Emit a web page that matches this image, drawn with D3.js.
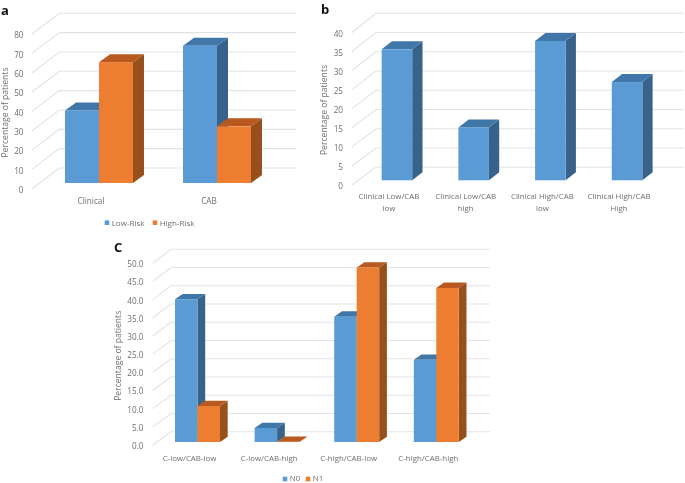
<!DOCTYPE html>
<html><head><meta charset="utf-8">
<script src="https://cdnjs.cloudflare.com/ajax/libs/d3/7.8.5/d3.min.js"></script>
<style>
html,body{margin:0;padding:0;background:#fff}
svg{display:block;filter:blur(0.35px)}
text{font-family:"Open Sans",sans-serif}
</style></head><body>
<svg id="c" width="685" height="483"></svg>
<script>
// ---- data ----
const catsA = ["Clinical", "CAB"];
const lowRisk = [37.5, 71];
const highRisk = [62.5, 29.3];
const catsB = ["Clinical Low/CAB low", "Clinical Low/CAB high", "Clinical High/CAB low", "Clinical High/CAB High"];
const patients = [34.4, 13.9, 36.6, 25.8];
const catsC = ["C-low/CAB-low", "C-low/CAB-high", "C-high/CAB-low", "C-high/CAB-high"];
const n0 = [39.3, 3.85, 34.5, 22.6];
const n1 = [9.9, 0.05, 48, 42.4];
const ticksA = [0, 10, 20, 30, 40, 50, 60, 70, 80];
const ticksB = [0, 5, 10, 15, 20, 25, 30, 35, 40];
const ticksC = [0, 5, 10, 15, 20, 25, 30, 35, 40, 45, 50];
const yTitle = "Percentage of patients";

const palette = {
  blue: {front: "#5B9BD5", top: "#4076A8", side: "#376289"},
  orange: {front: "#ED7D31", top: "#B85A20", side: "#974F1C"}
};
const svg = d3.select("#c");

function panel(o) {
  const g = svg.append("g");
  const yFront = d3.scaleLinear().domain([0, o.max]).range([o.front0, o.frontMax]);
  const yWall = d3.scaleLinear().domain([0, o.max]).range([o.wall0, o.wallMax]);
  const yBar = d3.scaleLinear().domain([0, o.max]).range([o.base, o.base - (o.front0 - o.frontMax)]);
  const x = d3.scaleBand().domain(o.cats).range(o.xr).paddingInner(o.pad).paddingOuter(o.pad / 2);
  const xs = d3.scaleBand().domain(o.series.map(s => s.name)).range([0, x.bandwidth()]);

  // back wall and side grid
  o.ticks.forEach(t => {
    g.append("path")
      .attr("d", `M${o.corner},${yFront(t)}L${o.wallL},${yWall(t)}H${o.wallR}`)
      .attr("fill", "none").attr("stroke", "#E3E3E3").attr("stroke-width", 1.1);
  });

  // y axis
  const ax = g.append("g").attr("transform", `translate(${o.tickX},0.8)`)
    .call(d3.axisLeft(yFront).tickValues(o.ticks).tickSize(0).tickPadding(0).tickFormat(o.fmt));
  ax.select(".domain").remove();
  ax.selectAll("text").attr("fill", "#6f6f6f").style("font-size", "8.2px");

  // x axis
  const bx = g.append("g").attr("transform", `translate(${o.labelDx},${o.labelY})`)
    .call(d3.axisBottom(x).tickSize(0).tickPadding(0));
  bx.select(".domain").remove();
  bx.selectAll("text").attr("fill", "#6f6f6f").style("font-size", o.labelSize + "px");
  if (o.wrap) {
    bx.selectAll("text").each(function (d) {
      const w = d.split(" "), last = w.pop(), t = d3.select(this).text(null).attr("dy", null);
      t.append("tspan").attr("x", 0).attr("dy", "0.71em").text(w.join(" "));
      t.append("tspan").attr("x", 0).attr("dy", 11.6).text(last);
    });
  }

  // bars: drawn left to right so later series overlap earlier ones
  o.cats.forEach((c, i) => {
    o.series.forEach(s => {
      const col = palette[s.color];
      const l = x(c) + xs(s.name), r = l + xs.bandwidth();
      const t = yBar(s.values[i]), b = yBar(0), dx = o.dx, dy = o.dy;
      g.append("path").attr("d", `M${r},${t}L${r + dx},${t - dy}V${b - dy}L${r},${b}Z`).attr("fill", col.side);
      g.append("path").attr("d", `M${l},${t}L${l + dx},${t - dy}H${r + dx}L${r},${t}Z`).attr("fill", col.top);
      g.append("rect").attr("x", l).attr("y", t).attr("width", r - l).attr("height", b - t)
        .attr("fill", col.front);
    });
  });

  // y title
  g.append("text").attr("transform", `translate(${o.titleX},${o.titleY}) rotate(-90)`)
    .attr("text-anchor", "middle").attr("dominant-baseline", "central")
    .attr("fill", "#6f6f6f").style("font-size", "8.6px").text(yTitle);

  // legend
  (o.legend || []).forEach((p, i) => {
    const s = o.series[i];
    g.append("rect").attr("x", p).attr("y", o.legendMark - 2.3).attr("width", 4.6).attr("height", 4.6)
      .attr("fill", palette[s.color].front);
    g.append("text").attr("x", p + 7).attr("y", o.legendY).attr("dominant-baseline", "central")
      .attr("fill", "#6f6f6f").style("font-size", "8px").text(s.name);
  });

  // panel letter
  g.append("text").attr("x", o.letter[0]).attr("y", o.letter[1])
    .attr("fill", "#111").style("font-size", "13px").style("font-weight", 700).text(o.tag);
}

panel({
  tag: "a", letter: [1, 14.5], cats: catsA, ticks: ticksA, max: 80, fmt: d3.format("d"),
  series: [{name: "Low-Risk", color: "blue", values: lowRisk}, {name: "High-Risk", color: "orange", values: highRisk}],
  front0: 189, frontMax: 34.3, wall0: 168, wallMax: 13.3, base: 183,
  corner: 31.7, wallL: 59.3, wallR: 296, tickX: 23.5,
  xr: [40, 276], pad: 0.424, dx: 11, dy: 8,
  labelDx: -8, labelY: 198, labelSize: 8.2, titleX: 5, titleY: 112.5,
  legend: [104.7, 152.7], legendY: 222.7, legendMark: 222.7
});
panel({
  tag: "b", letter: [321, 14], cats: catsB, ticks: ticksB, max: 40, fmt: d3.format("d"),
  series: [{name: "Patients", color: "blue", values: patients}],
  front0: 185, frontMax: 32.7, wall0: 167.3, wallMax: 13.3, base: 180.3,
  corner: 351.7, wallL: 376, wallR: 684, tickX: 343,
  xr: [358.6, 665.4], pad: 0.602, dx: 10.3, dy: 8,
  labelDx: -8, labelY: 193.5, labelSize: 7.9, wrap: true, titleX: 324.3, titleY: 110
});
panel({
  tag: "C", letter: [114, 252], cats: catsC, ticks: ticksC, max: 50, fmt: d3.format(".1f"),
  series: [{name: "N0", color: "blue", values: n0}, {name: "N1", color: "orange", values: n1}],
  front0: 445, frontMax: 263.3, wall0: 431.7, wallMax: 249.3, base: 442,
  corner: 152.7, wallL: 171, wallR: 490, tickX: 143.5,
  xr: [157.7, 476.1], pad: 0.435, dx: 7.7, dy: 5.3,
  labelDx: -8, labelY: 455, labelSize: 7.9, titleX: 118.3, titleY: 355.8,
  legend: [282.7, 305.7], legendY: 477.5, legendMark: 479
});
</script>
</body></html>
